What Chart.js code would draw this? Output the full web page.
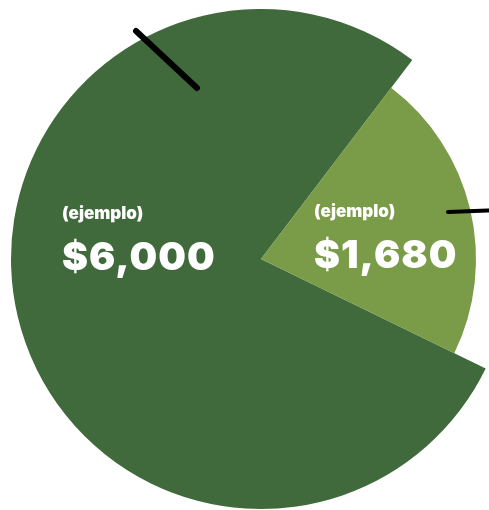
<!DOCTYPE html>
<html>
<head>
<meta charset="utf-8">
<script src="https://cdn.jsdelivr.net/npm/chart.js@4.4.0/dist/chart.umd.min.js"></script>
<style>
  html, body { margin: 0; padding: 0; background: #ffffff; overflow: hidden; }
  #wrap { position: absolute; left: 0; top: 0; width: 522px; height: 518px; }
</style>
</head>
<body>
<div id="wrap"><canvas id="plotHere"></canvas></div>
<script>
// data / datos
const categories = ["Gasto A", "Gasto B"];
const amounts = [6000, 1680];
const smallLabels = ["(ejemplo)", "(ejemplo)"];
const bigLabels = ["$6,000", "$1,680"];

const darkGreen = "#406a3c";
const lightGreen = "#7a9c48";

// the small slice is drawn with a shorter radius
const shrinkPlugin = {
  id: "shrinkPlugin",
  beforeDatasetsDraw(chart) {
    const arc = chart.getDatasetMeta(0).data[1];
    arc.outerRadius = chart.getDatasetMeta(0).data[0].outerRadius * 0.86;
  }
};

// draws the white texts and the two black pen strokes
const labelPlugin = {
  id: "labelPlugin",
  afterDatasetsDraw(chart) {
    const ctx = chart.ctx;
    const arc = chart.getDatasetMeta(0).data[0];
    const cx = arc.x, cy = arc.y;
    const offX = [-199, 53];
    const offY = [0, -2];
    ctx.save();
    ctx.fillStyle = "#ffffff";
    ctx.textAlign = "left";
    ctx.textBaseline = "alphabetic";
    for (let i = 0; i < amounts.length; i++) {
      ctx.font = "900 17px Inter";
      ctx.letterSpacing = "0px";
      ctx.fillText(smallLabels[i], cx + offX[i], cy - 40 + offY[i]);
      ctx.font = "900 39px Inter";
      ctx.letterSpacing = "1px";
      ctx.fillText(bigLabels[i], cx + offX[i], cy + 11 + offY[i]);
    }
    // black strokes
    ctx.strokeStyle = "#000000";
    ctx.lineCap = "round";
    ctx.lineWidth = 6;
    ctx.beginPath();
    ctx.moveTo(cx - 125, cy - 228);
    ctx.lineTo(cx - 64, cy - 171);
    ctx.stroke();
    ctx.lineWidth = 4;
    ctx.beginPath();
    ctx.moveTo(cx + 187, cy - 47);
    ctx.lineTo(cx + 240, cy - 49);
    ctx.stroke();
    ctx.restore();
  }
};

window.addEventListener("load", function () {
  new Chart(document.getElementById("plotHere").getContext("2d"), {
    type: "pie",
    data: {
      labels: categories,
      datasets: [{
        data: amounts,
        backgroundColor: [darkGreen, lightGreen],
        borderWidth: 0
      }]
    },
    options: {
      responsive: true,
      maintainAspectRatio: false,
      animation: false,
      rotation: 116,
      layout: { padding: { left: 11, right: 11, top: 9, bottom: 9 } },
      plugins: { legend: { display: false }, tooltip: { enabled: false } }
    },
    plugins: [shrinkPlugin, labelPlugin]
  });
});
</script>
</body>
</html>
